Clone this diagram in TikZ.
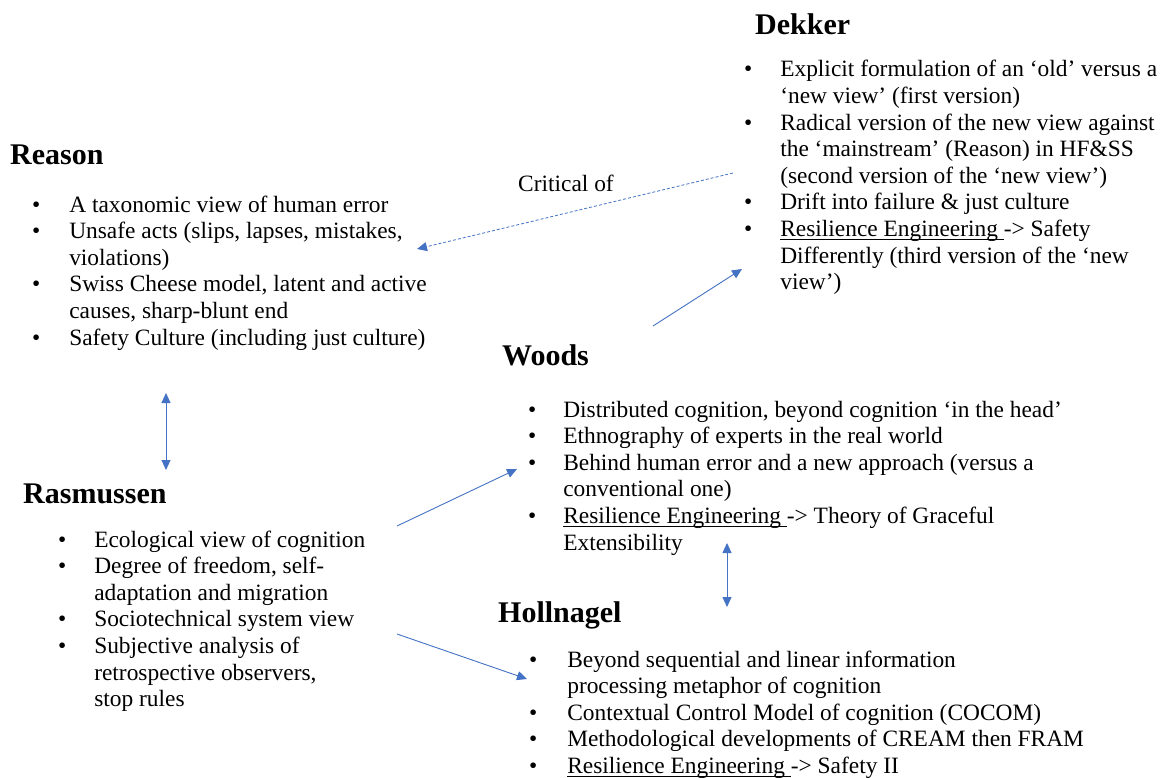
\documentclass[tikz,border=0pt]{standalone}
\usepackage{fontspec}
\setmainfont{Liberation Serif}
\usetikzlibrary{arrows.meta}
\definecolor{ablue}{HTML}{4472C4}
\newlength\ulw
\newcommand\myul[1]{\settowidth\ulw{#1}\rlap{\rule[-3.5pt]{\ulw}{1.2pt}}#1}
\newcommand\bodyfont{\fontsize{23.4}{26.6}\selectfont}
\tikzset{
  head/.style={anchor=base west, inner sep=0pt, font=\fontsize{30}{36}\selectfont\bfseries},
  items/.style={anchor=base west, inner sep=0pt, font=\bodyfont},
  plain/.style={anchor=base west, inner sep=0pt, font=\bodyfont},
  tipa/.tip={Triangle[length=10pt,width=9pt]},
  link/.style={draw=ablue, line width=0.9pt, -tipa},
  dlink/.style={draw=ablue, line width=0.9pt, tipa-tipa},
  crit/.style={draw=ablue, line width=0.8pt, dash pattern=on 3pt off 2pt, -tipa},
}
\begin{document}
\begin{tikzpicture}[x=1pt,y=-1pt]
\useasboundingbox[fill=white] (0,0) rectangle (1164,778);

% Dekker
\node[head] (dekkerH) at (755,35) {Dekker};
\node[items] (dekker) at (744,77) {\begin{tabular}[t]{@{}c@{\hspace{27.9pt}}l@{}}
• & Explicit formulation of an ‘old’ versus a \\
  & ‘new view’ (first version) \\
• & Radical version of the new view against \\
  & the ‘mainstream’ (Reason) in HF\&SS \\
  & (second version of the ‘new view’) \\
• & Drift into failure \& just culture \\
• & \myul{Resilience Engineering }-> Safety \\
  & Differently (third version of the ‘new \\
  & view’)
\end{tabular}};

% Reason
\node[head] (reasonH) at (10,165) {Reason};
\node[items] (reason) at (32,212) {\begin{tabular}[t]{@{}c@{\hspace{28.9pt}}l@{}}
• & A taxonomic view of human error \\
• & Unsafe acts (slips, lapses, mistakes, \\
  & violations) \\
• & Swiss Cheese model, latent and active \\
  & causes, sharp-blunt end \\
• & Safety Culture (including just culture)
\end{tabular}};

\node[plain] (critical) at (518,192) {Critical of};

% Woods
\node[head] (woodsH) at (502,365) {Woods};
\node[items] (woods) at (528,417) {\begin{tabular}[t]{@{}c@{\hspace{26.9pt}}l@{}}
• & Distributed cognition, beyond cognition ‘in the head’ \\
• & Ethnography of experts in the real world \\
• & Behind human error and a new approach (versus a \\
  & conventional one) \\
• & \myul{Resilience Engineering }-> Theory of Graceful \\
  & Extensibility
\end{tabular}};

% Rasmussen
\node[head] (rasH) at (23,503) {Rasmussen};
\node[items] (ras) at (58,547) {\begin{tabular}[t]{@{}c@{\hspace{27.9pt}}l@{}}
• & Ecological view of cognition \\
• & Degree of freedom, self- \\
  & adaptation and migration \\
• & Sociotechnical system view \\
• & Subjective analysis of \\
  & retrospective observers, \\
  & stop rules
\end{tabular}};

% Hollnagel
\node[head] (holH) at (498,622) {Hollnagel};
\node[items] (hol) at (529,667) {\begin{tabular}[t]{@{}c@{\hspace{29.9pt}}l@{}}
• & Beyond sequential and linear information \\
  & processing metaphor of cognition \\
• & Contextual Control Model of cognition (COCOM) \\
• & Methodological developments of CREAM then FRAM \\
• & \myul{Resilience Engineering }-> Safety II
\end{tabular}};

% connector end points
\coordinate (critS) at (733,173);
\coordinate (critE) at (417,249);
\coordinate (rrA) at (166,393);
\coordinate (rrB) at (166,470);
\coordinate (rwS) at (397,526);
\coordinate (rwE) at (517,469);
\coordinate (rhS) at (397,634);
\coordinate (rhE) at (527,679);
\coordinate (wdS) at (653,326);
\coordinate (wdE) at (742,269);
\coordinate (whA) at (727,543);
\coordinate (whB) at (727,607);

\draw[crit] (critS) -- (critE);
\draw[dlink] (rrA) -- (rrB);
\draw[link] (rwS) -- (rwE);
\draw[link] (rhS) -- (rhE);
\draw[link] (wdS) -- (wdE);
\draw[dlink] (whA) -- (whB);
\end{tikzpicture}
\end{document}
